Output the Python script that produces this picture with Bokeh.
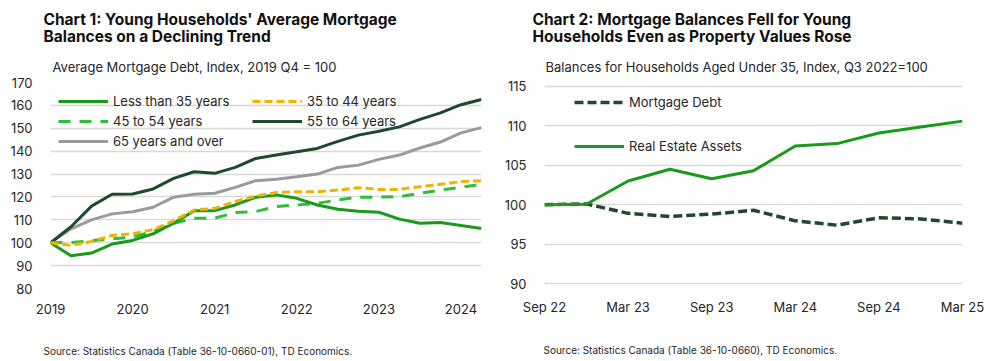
from bokeh.plotting import figure
from bokeh.models import Range1d, FixedTicker, Legend, LegendItem, Title
from bokeh.layouts import row
from bokeh.embed import file_html
from bokeh.resources import INLINE

FONT = "Inter"
TXT = "#262626"

# ---------------- Chart 1 data (quarterly, 2019 Q4 = 100) ----------------
quarters1 = ["2019 Q4", "2020 Q1", "2020 Q2", "2020 Q3", "2020 Q4", "2021 Q1", "2021 Q2",
             "2021 Q3", "2021 Q4", "2022 Q1", "2022 Q2", "2022 Q3", "2022 Q4", "2023 Q1",
             "2023 Q2", "2023 Q3", "2023 Q4", "2024 Q1", "2024 Q2", "2024 Q3", "2024 Q4",
             "2025 Q1"]
year_ticks1 = ["2019", "2020", "2021", "2022", "2023", "2024"]
lt35 = [100, 94.3, 95.5, 99.4, 101.0, 103.9, 108.5, 114.0, 114.0, 116.5, 119.9, 120.9,
        119.4, 116.5, 114.6, 113.8, 113.3, 110.3, 108.5, 108.8, 107.5, 106.2]
a35_44 = [100, 98.8, 100.6, 103.2, 103.9, 105.7, 109.6, 114.3, 115.0, 118.0, 120.4, 121.9,
          122.3, 122.3, 123.0, 124.0, 123.3, 123.3, 124.5, 125.5, 126.7, 127.1]
a45_54 = [100, 100.1, 100.9, 101.7, 102.5, 104.9, 108.5, 110.7, 110.7, 113.2, 113.6, 115.8,
          116.5, 117.2, 118.7, 119.9, 119.9, 120.1, 121.6, 123.0, 124.2, 125.6]
a55_64 = [100, 107.0, 116.0, 121.2, 121.3, 123.5, 128.1, 131.0, 130.3, 132.9, 136.8, 138.3,
          139.7, 141.2, 144.3, 147.0, 148.7, 150.6, 153.9, 156.7, 160.3, 162.6]
a65 = [100, 106.1, 110.0, 112.6, 113.5, 115.5, 119.9, 121.2, 121.6, 124.2, 127.1, 127.7,
       128.8, 130.0, 132.9, 133.9, 136.4, 138.3, 141.4, 144.0, 148.0, 150.3]
yticks1 = [80, 90, 100, 110, 120, 130, 140, 150, 160, 170]

# ---------------- Chart 2 data (quarterly, Q3 2022 = 100) ----------------
periods2 = ["Sep 22", "Dec 22", "Mar 23", "Jun 23", "Sep 23", "Dec 23", "Mar 24",
            "Jun 24", "Sep 24", "Dec 24", "Mar 25"]
mortgage = [100, 100.1, 98.9, 98.5, 98.8, 99.3, 97.95, 97.4, 98.35, 98.2, 97.65]
real_estate = [100, 100.05, 103.0, 104.5, 103.3, 104.3, 107.45, 107.75, 109.1, 109.85, 110.6]
yticks2 = [90, 95, 100, 105, 110, 115]

GREEN = "#1a9a1a"
DARK = "#1d4a2a"
LIGHT = "#2cbf3a"
GOLD = "#efb200"
GRAY = "#9a9a9a"


def style(p, yticks, xstandoff=12):
    p.outline_line_color = None
    p.background_fill_color = "white"
    p.border_fill_color = "white"
    for ax in (p.xaxis, p.yaxis):
        ax.axis_line_color = None
        ax.major_tick_line_color = None
        ax.minor_tick_line_color = None
        ax.major_label_text_font = FONT
        ax.major_label_text_font_size = "13px"
        ax.major_label_text_color = TXT
    p.yaxis.major_label_standoff = 12
    p.xaxis.major_label_standoff = xstandoff
    p.yaxis.ticker = FixedTicker(ticks=yticks)
    p.xgrid.grid_line_color = None
    p.ygrid.ticker = FixedTicker(ticks=yticks)
    p.ygrid.grid_line_color = "#d9d9d9"
    p.ygrid.grid_line_width = 1.5


def titles(p, main, sub, source, main_off, sub_off, src_off, src_standoff):
    p.add_layout(Title(text=sub, align="left", offset=sub_off, standoff=16,
                       text_font=FONT, text_font_size="13px", text_font_style="normal",
                       text_color=TXT), "above")
    p.add_layout(Title(text=main, align="left", offset=main_off, standoff=5,
                       text_font=FONT, text_font_size="15.5px", text_font_style="bold",
                       text_color="#111111", text_line_height=0.9), "above")
    # two leading blank lines push the source note toward the bottom of the canvas
    p.add_layout(Title(text="\n\n" + source, align="left", offset=src_off,
                       standoff=src_standoff, text_font=FONT, text_font_size="10px",
                       text_font_style="normal", text_color=TXT, text_line_height=0.9),
                 "below")


def legend(p, items, loc, spacing=0):
    lg = Legend(items=items, location=loc, orientation="vertical", padding=0, margin=0,
                spacing=spacing, glyph_width=50, glyph_height=20, label_height=20,
                label_standoff=5, label_text_font=FONT, label_text_font_size="13px",
                label_text_color=TXT, background_fill_alpha=0, border_line_alpha=0)
    p.add_layout(lg)


# ---------------- Chart 1 ----------------
x1 = list(range(len(quarters1)))
p1 = figure(width=497, height=361, output_backend="svg", toolbar_location=None,
            x_range=Range1d(0, len(quarters1) - 1), y_range=Range1d(80, 170),
            min_border_left=50, min_border_right=16, min_border_top=82, min_border_bottom=72)
style(p1, yticks1, xstandoff=9)
tick_pos1 = [quarters1.index(f"{y} Q4") for y in year_ticks1]
p1.xaxis.ticker = FixedTicker(ticks=tick_pos1)
p1.xaxis.major_label_overrides = {t: lab for t, lab in zip(tick_pos1, year_ticks1)}

r65 = p1.line(x1, a65, line_color=GRAY, line_width=3)
r55 = p1.line(x1, a55_64, line_color=DARK, line_width=3)
r45 = p1.line(x1, a45_54, line_color=LIGHT, line_width=3, line_dash="12 9")
rlt = p1.line(x1, lt35, line_color=GREEN, line_width=3)
r35 = p1.line(x1, a35_44, line_color=GOLD, line_width=3, line_dash="8 4")

legend(p1, [LegendItem(label="Less than 35 years", renderers=[rlt]),
            LegendItem(label="45 to 54 years", renderers=[r45]),
            LegendItem(label="65 years and over", renderers=[r65])], (8, 137))
legend(p1, [LegendItem(label="35 to 44 years", renderers=[r35]),
            LegendItem(label="55 to 64 years", renderers=[r55])], (202, 157))

titles(p1, "Chart 1: Young Households' Average Mortgage\nBalances on a Declining Trend",
       "Average Mortgage Debt, Index, 2019 Q4 = 100",
       "Source: Statistics Canada (Table 36-10-0660-01), TD Economics.", -7, 2, -7, 9)

# ---------------- Chart 2 ----------------
x2 = list(range(len(periods2)))
p2 = figure(width=501, height=361, output_backend="svg", toolbar_location=None,
            x_range=Range1d(0, len(periods2) - 1), y_range=Range1d(89.37, 115.5),
            min_border_left=47, min_border_right=36, min_border_top=82, min_border_bottom=72)
style(p2, yticks2, xstandoff=4)
tick_pos2 = list(range(0, len(periods2), 2))
p2.xaxis.ticker = FixedTicker(ticks=tick_pos2)
p2.xaxis.major_label_overrides = {t: periods2[t] for t in tick_pos2}

rm = p2.line(x2, mortgage, line_color=DARK, line_width=3.5, line_dash="9 4")
rr = p2.line(x2, real_estate, line_color=GREEN, line_width=3)
legend(p2, [LegendItem(label="Mortgage Debt", renderers=[rm]),
            LegendItem(label="Real Estate Assets", renderers=[rr])], (30, 132), spacing=24)

titles(p2, "Chart 2: Mortgage Balances Fell for Young\nHouseholds Even as Property Values Rose",
       "Balances for Households Aged Under 35,  Index, Q3 2022=100",
       "Source: Statistics Canada (Table 36-10-0660), TD Economics.", -12, 1, -1, 5)

layout = row(p1, p2)
open("out.html", "w").write(file_html(layout, INLINE))
